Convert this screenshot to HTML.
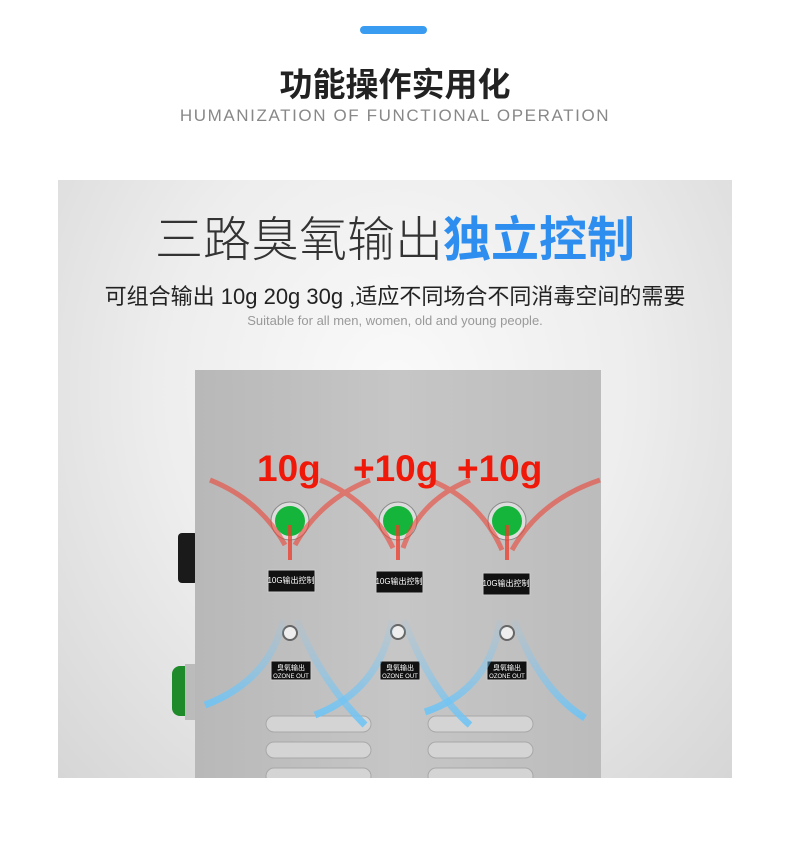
<!DOCTYPE html>
<html><head><meta charset="utf-8"><style>
body{margin:0;width:790px;height:856px;background:#fff;position:relative;overflow:hidden;font-family:"Liberation Sans","Noto Sans CJK SC",sans-serif}
.t{position:absolute;left:0;width:790px;text-align:center;white-space:nowrap}
</style></head><body>
<div style="position:absolute;left:360px;top:26px;width:67px;height:8px;border-radius:4px;background:#3a9cf0"></div>
<div class="t" style="top:58px;font-size:33px;font-weight:bold;color:#222">功能操作实用化</div>
<div class="t" style="top:106px;font-size:17px;letter-spacing:1.6px;color:#888">HUMANIZATION OF FUNCTIONAL OPERATION</div>
<div style="position:absolute;left:58px;top:180px;width:674px;height:598px;background:radial-gradient(ellipse at 50% 35%,#fafafa 0%,#ededed 50%,#d6d6d6 100%)"></div>
<div class="t" style="top:200px;font-size:48px;color:#333;font-weight:300">三路臭氧输出<span style="color:#2d8ef0;font-weight:bold">独立控制</span></div>
<div class="t" style="top:279px;font-size:22px;color:#222">可组合输出 10g 20g 30g ,适应不同场合不同消毒空间的需要</div>
<div class="t" style="top:313px;font-size:13px;color:#999">Suitable for all men, women, old and young people.</div>
<svg style="position:absolute;left:0;top:0" width="790" height="778">
<defs>
<linearGradient id="m" x1="0" x2="1"><stop offset="0" stop-color="#b8b8b8"/><stop offset="0.5" stop-color="#c6c6c6"/><stop offset="1" stop-color="#bcbcbc"/></linearGradient>
<linearGradient id="b" x1="0" y1="0" x2="0" y2="1"><stop offset="0" stop-color="#8ac8f0" stop-opacity="0.1"/><stop offset="1" stop-color="#6ec4f5" stop-opacity="0.9"/></linearGradient>
</defs>
<rect x="178" y="533" width="20" height="50" rx="4" fill="#1a1a1a"/>
<rect x="172" y="666" width="26" height="50" rx="8" fill="#1e8a2a"/>
<rect x="185" y="664" width="10" height="56" fill="#bbb"/>
<rect x="195" y="370" width="406" height="408" fill="url(#m)"/>
<g fill="#d4d4d4" stroke="#a8a8a8">
<rect x="266" y="716" width="105" height="16" rx="8"/><rect x="266" y="742" width="105" height="16" rx="8"/><rect x="266" y="768" width="105" height="16" rx="8"/>
<rect x="428" y="716" width="105" height="16" rx="8"/><rect x="428" y="742" width="105" height="16" rx="8"/><rect x="428" y="768" width="105" height="16" rx="8"/>
</g>
<g>
<circle cx="290" cy="521" r="19" fill="#ddd" stroke="#888"/><circle cx="290" cy="521" r="15" fill="#15b53c"/>
<circle cx="398" cy="521" r="19" fill="#ddd" stroke="#888"/><circle cx="398" cy="521" r="15" fill="#15b53c"/>
<circle cx="507" cy="521" r="19" fill="#ddd" stroke="#888"/><circle cx="507" cy="521" r="15" fill="#15b53c"/>
</g>
<g fill="#111" stroke="#ccc">
<rect x="268" y="570" width="47" height="22"/><rect x="376" y="571" width="47" height="22"/><rect x="483" y="573" width="47" height="22"/>
<rect x="271" y="661" width="40" height="19"/><rect x="380" y="661" width="40" height="19"/><rect x="487" y="661" width="40" height="19"/>
</g>
<g fill="#fff" font-size="8" text-anchor="middle">
<text x="291" y="583">10G输出控制</text><text x="399" y="584">10G输出控制</text><text x="506" y="586">10G输出控制</text>
<text x="291" y="670" font-size="7">臭氧输出</text><text x="400" y="670" font-size="7">臭氧输出</text><text x="507" y="670" font-size="7">臭氧输出</text>
<text x="291" y="678" font-size="6">OZONE OUT</text><text x="400" y="678" font-size="6">OZONE OUT</text><text x="507" y="678" font-size="6">OZONE OUT</text>
</g>
<g fill="#eee" stroke="#666" stroke-width="2">
<circle cx="290" cy="633" r="7"/><circle cx="398" cy="632" r="7"/><circle cx="507" cy="633" r="7"/>
</g>
<g stroke="#f03a2a" stroke-width="5" fill="none" opacity="0.55">
<path d="M210 480 Q260 500 285 545"/><path d="M370 480 Q320 500 295 545"/><path d="M320 480 Q370 500 393 548"/><path d="M470 480 Q420 500 403 548"/><path d="M430 480 Q480 500 502 550"/><path d="M600 480 Q540 500 512 550"/>
</g>
<g stroke="#f03a2a" stroke-width="4" opacity="0.75"><line x1="290" y1="525" x2="290" y2="560"/><line x1="398" y1="525" x2="398" y2="560"/><line x1="507" y1="525" x2="507" y2="560"/></g>
<g stroke="url(#b)" stroke-width="7" fill="none">
<path d="M283 620 Q270 680 205 705"/><path d="M297 620 Q320 680 365 725"/><path d="M392 620 Q380 690 315 715"/><path d="M404 620 Q430 690 470 725"/><path d="M500 620 Q490 690 425 712"/><path d="M514 620 Q540 690 585 718"/>
<line x1="293" y1="640" x2="293" y2="778"/><line x1="400" y1="640" x2="400" y2="778"/><line x1="510" y1="640" x2="510" y2="778"/>
</g>
<g fill="#f01808" font-weight="bold" font-size="37" font-family="Liberation Sans,sans-serif">
<text x="257" y="481">10g</text><text x="353" y="481">+10g</text><text x="457" y="481">+10g</text>
</g>
</svg>
</body></html>
